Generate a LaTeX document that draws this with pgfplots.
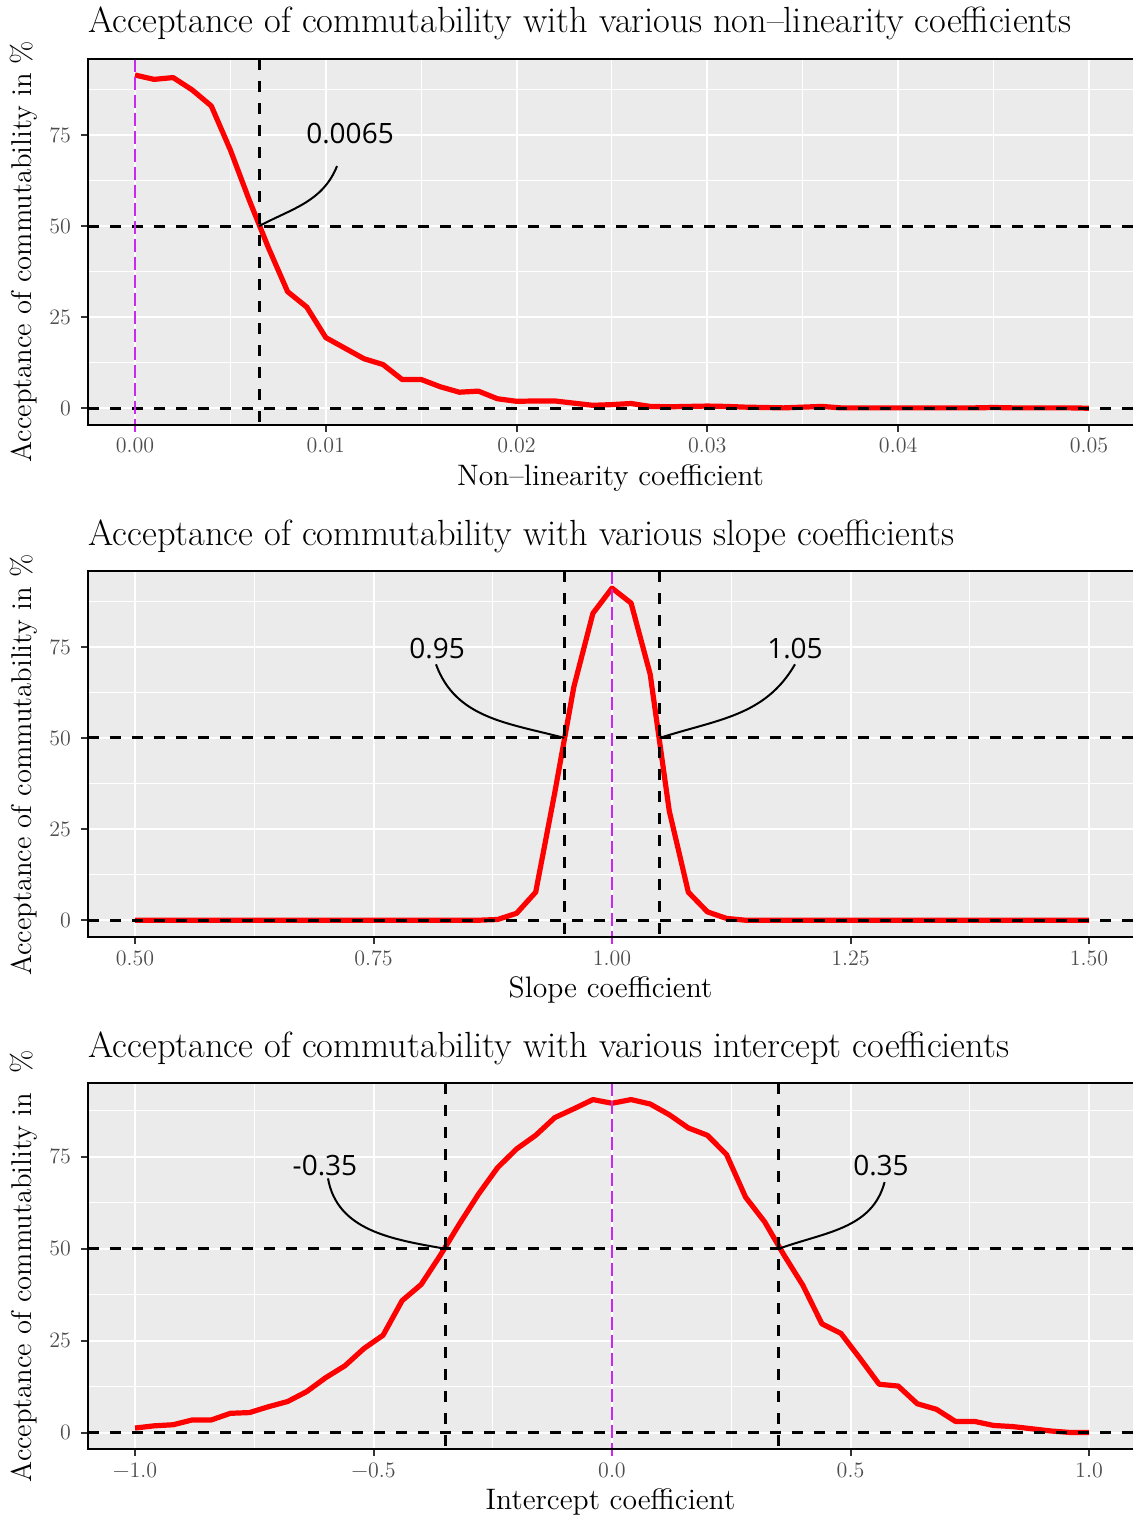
\documentclass[border=0pt]{standalone}
\usepackage{fontspec}
\usepackage{pgfplots}
\usepackage{pgfplotstable}
\pgfplotsset{compat=1.18}
\newfontfamily\annfont{Open Sans}

\definecolor{panelgrey}{HTML}{EBEBEB}
\definecolor{ticktext}{HTML}{4D4D4D}
\definecolor{tickmark}{HTML}{333333}
\definecolor{vio}{RGB}{200,40,240}

% acceptance (%) against each coefficient
\pgfplotstableread{
x y
0.000 91.5
0.001 90.3
0.002 90.8
0.003 87.4
0.004 83.0
0.005 70.9
0.006 57.0
0.007 44.0
0.008 32.0
0.009 27.8
0.010 19.4
0.011 16.5
0.012 13.6
0.013 12.0
0.014 7.9
0.015 7.9
0.016 5.9
0.017 4.4
0.018 4.7
0.019 2.6
0.020 1.9
0.021 2.0
0.022 2.0
0.023 1.4
0.024 0.8
0.025 1.0
0.026 1.3
0.027 0.5
0.028 0.4
0.029 0.5
0.030 0.6
0.031 0.5
0.032 0.3
0.033 0.2
0.034 0.1
0.035 0.3
0.036 0.5
0.037 0.1
0.038 0.1
0.039 0.1
0.040 0.1
0.041 0.1
0.042 0.1
0.043 0.1
0.044 0.1
0.045 0.2
0.046 0.1
0.047 0.1
0.048 0.1
0.049 0.1
0.050 0.0
}\nonlin

\pgfplotstableread{
x y
0.50 0
0.52 0
0.54 0
0.56 0
0.58 0
0.60 0
0.62 0
0.64 0
0.66 0
0.68 0
0.70 0
0.72 0
0.74 0
0.76 0
0.78 0
0.80 0
0.82 0
0.84 0
0.86 0
0.88 0.2
0.90 1.9
0.92 7.7
0.94 35.0
0.96 64.0
0.98 84.2
1.00 91.1
1.02 87.0
1.04 67.5
1.06 30.0
1.08 7.7
1.10 2.3
1.12 0.5
1.14 0
1.16 0
1.18 0
1.20 0
1.22 0
1.24 0
1.26 0
1.28 0
1.30 0
1.32 0
1.34 0
1.36 0
1.38 0
1.40 0
1.42 0
1.44 0
1.46 0
1.48 0
1.50 0
}\slope

\pgfplotstableread{
x y
-1.00 1.3
-0.96 1.9
-0.92 2.2
-0.88 3.5
-0.84 3.5
-0.80 5.3
-0.76 5.5
-0.72 7.1
-0.68 8.5
-0.64 11.2
-0.60 15.0
-0.56 18.2
-0.52 22.9
-0.48 26.5
-0.44 35.9
-0.40 40.3
-0.36 48.2
-0.32 56.7
-0.28 64.8
-0.24 72.0
-0.20 77.1
-0.16 80.8
-0.12 85.6
-0.08 88.0
-0.04 90.5
0.00 89.5
0.04 90.5
0.08 89.3
0.12 86.4
0.16 82.8
0.20 80.8
0.24 75.6
0.28 64.0
0.32 57.3
0.36 48.4
0.40 40.1
0.44 29.6
0.48 27.0
0.52 20.2
0.56 13.2
0.60 12.7
0.64 7.9
0.68 6.4
0.72 3.1
0.76 3.1
0.80 2.0
0.84 1.7
0.88 1.1
0.92 0.5
0.96 0.1
1.00 0.1
}\intercept

\tikzset{
  redline/.style={red, line width=2.6pt, line join=round},
  refline/.style={black, line width=1.5pt, dash pattern=on 5.5pt off 5.5pt},
  centreline/.style={vio, line width=1.2pt, dash pattern=on 6.5pt off 2.5pt},
  callout/.style={black, line width=1pt},
  calltext/.style={font=\annfont\fontsize{14}{16}\selectfont},
  frame/.style={black, line width=1pt},
}

\pgfplotsset{
  panel/.style={
    scale only axis,
    width=522.5pt, height=183pt,
    anchor=north west,
    axis background/.style={fill=panelgrey},
    axis line style={draw=none},
    grid=both,
    major grid style={white, line width=1pt},
    minor grid style={white, line width=0.5pt},
    minor tick length=0pt,
    major tick length=3.5pt,
    tick align=outside,
    tick pos=left,
    tick style={tickmark, line width=1pt},
    scaled x ticks=false,
    scaled y ticks=false,
    ticklabel style={font=\fontsize{11}{13}\selectfont, text=ticktext},
    xticklabel style={anchor=base, yshift=-10.5pt},
    yticklabel style={xshift=-1.5pt},
    ytick={0,25,50,75},
    yticklabels={0,25,50,75},
    minor ytick={12.5,37.5,62.5,87.5},
    clip=false,
  },
}

\newcommand{\paneltitle}[1]{%
  \node[anchor=base west, inner sep=0pt, font=\fontsize{18.2}{21}\selectfont]
    at ([yshift=13pt]rel axis cs:0,1) {#1};}
\newcommand{\panelxlabel}[1]{%
  \node[anchor=base, inner sep=0pt, font=\fontsize{14.8}{17}\selectfont]
    at ([yshift=-30.3pt]rel axis cs:0.5,0) {#1};}
\newcommand{\panelylabel}[2]{%
  \node[rotate=90, anchor=center, inner sep=0pt, font=\fontsize{14.3}{17}\selectfont]
    at ([xshift=-32pt,yshift=#1]rel axis cs:0,0.5) {#2};}
\newcommand{\panelframe}{%
  \draw[frame] (rel axis cs:1,1) -- (rel axis cs:0,1) -- (rel axis cs:0,0) -- (rel axis cs:1,0);}

\begin{document}
\begin{tikzpicture}
\useasboundingbox (0,0) rectangle (566.5pt,-759.5pt);

% --- non-linearity coefficient ---
\begin{axis}[panel, at={(44pt,-29.5pt)},
  xmin=-0.002463, xmax=0.05231, ymin=-4.6, ymax=95.9,
  xtick={0,0.01,0.02,0.03,0.04,0.05},
  xticklabels={0.00,0.01,0.02,0.03,0.04,0.05},
  minor xtick={0.005,0.015,0.025,0.035,0.045}]
  \addplot[redline] table[x=x, y=y] {\nonlin};
  \draw[refline] (axis cs:-0.002463,0) -- (axis cs:0.05231,0);
  \draw[refline] (axis cs:-0.002463,50) -- (axis cs:0.05231,50);
  \draw[refline] (axis cs:0.0065,95.9) -- (axis cs:0.0065,-4.6);
  \draw[centreline] (axis cs:0,95.9) -- (axis cs:0,-6.8);
  \draw[callout] (axis cs:0.0065,50) to[out=28, in=-112] (axis cs:0.01059,66.5);
  \node[calltext] at (axis cs:0.01127,75.5) {0.0065};
  \panelframe
  \paneltitle{Acceptance of commutability with various non--linearity coefficients}
  \panelxlabel{Non--linearity coefficient}
  \panelylabel{-4.75pt}{Acceptance of commutability in \%}
\end{axis}

% --- slope coefficient ---
\begin{axis}[panel, at={(44pt,-285.5pt)},
  xmin=0.45073, xmax=1.54612, ymin=-4.6, ymax=95.8,
  xtick={0.5,0.75,1,1.25,1.5},
  xticklabels={0.50,0.75,1.00,1.25,1.50},
  minor xtick={0.625,0.875,1.125,1.375}]
  \addplot[redline] table[x=x, y=y] {\slope};
  \draw[refline] (axis cs:0.45073,0) -- (axis cs:1.54612,0);
  \draw[refline] (axis cs:0.45073,50) -- (axis cs:1.54612,50);
  \draw[refline] (axis cs:0.95,95.8) -- (axis cs:0.95,-4.6);
  \draw[refline] (axis cs:1.05,95.8) -- (axis cs:1.05,-4.6);
  \draw[centreline] (axis cs:1,95.8) -- (axis cs:1,-6.8);
  \draw[callout] (axis cs:0.95,50) to[out=165, in=-70] (axis cs:0.8155,70.2);
  \draw[callout] (axis cs:1.05,50) to[out=18, in=-120] (axis cs:1.1918,70.2);
  \node[calltext] at (axis cs:0.8166,74.6) {0.95};
  \node[calltext] at (axis cs:1.1918,74.6) {1.05};
  \panelframe
  \paneltitle{Acceptance of commutability with various slope coefficients}
  \panelxlabel{Slope coefficient}
  \panelylabel{-5.5pt}{Acceptance of commutability in \%}
\end{axis}

% --- intercept coefficient ---
\begin{axis}[panel, at={(44pt,-541.5pt)},
  xmin=-1.09853, xmax=1.09224, ymin=-4.4, ymax=95.0,
  xtick={-1,-0.5,0,0.5,1},
  xticklabels={\textminus1.0,\textminus0.5,0.0,0.5,1.0},
  minor xtick={-0.75,-0.25,0.25,0.75}]
  \addplot[redline] table[x=x, y=y] {\intercept};
  \draw[refline] (axis cs:-1.09853,0) -- (axis cs:1.09224,0);
  \draw[refline] (axis cs:-1.09853,50) -- (axis cs:1.09224,50);
  \draw[refline] (axis cs:-0.35,95.0) -- (axis cs:-0.35,-4.4);
  \draw[refline] (axis cs:0.35,95.0) -- (axis cs:0.35,-4.4);
  \draw[centreline] (axis cs:0,95.0) -- (axis cs:0,-6.6);
  \draw[callout] (axis cs:-0.35,50) to[out=170, in=-80] (axis cs:-0.5954,69.1);
  \draw[callout] (axis cs:0.35,50) to[out=20, in=-105] (axis cs:0.5715,68.1);
  \node[calltext] at (axis cs:-0.6017,72.6) {-0.35};
  \node[calltext] at (axis cs:0.5639,72.6) {0.35};
  \panelframe
  \paneltitle{Acceptance of commutability with various intercept coefficients}
  \panelxlabel{Intercept coefficient}
  \panelylabel{0pt}{Acceptance of commutability in\hspace{10pt}\%}
\end{axis}
\end{tikzpicture}
\end{document}
